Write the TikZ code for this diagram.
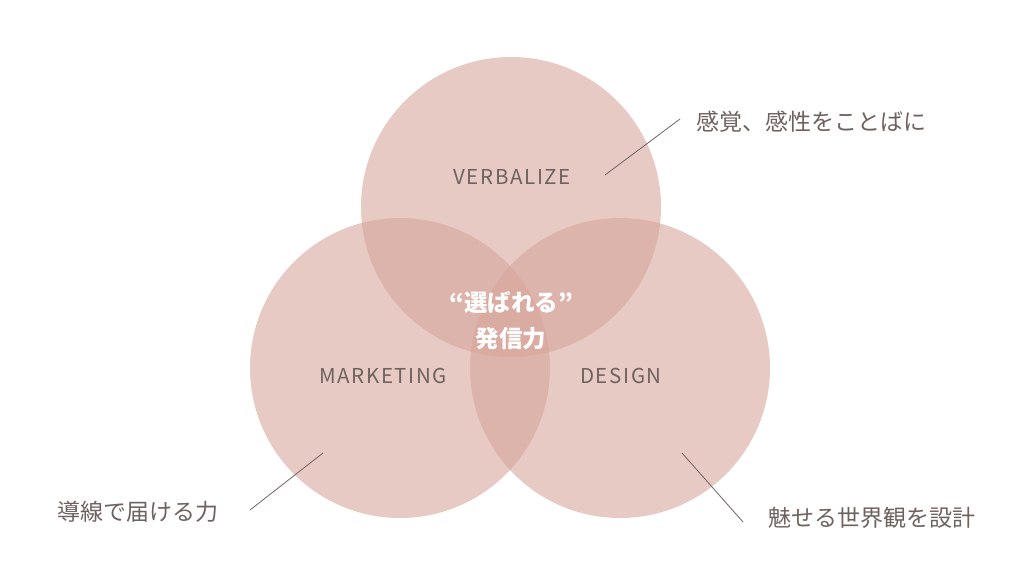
\documentclass[tikz,border=0pt]{standalone}
\usepackage{fontspec}
\setmainfont{Noto Sans CJK JP}
\newfontfamily\jpfont{Noto Sans CJK JP}
\newfontfamily\enfont[LetterSpace=8]{Noto Sans CJK JP}
\definecolor{circfill}{RGB}{214,164,153}
\definecolor{txtgray}{RGB}{110,98,95}
\definecolor{linegray}{RGB}{110,100,98}
\tikzset{
  venn/.style={circle, fill=circfill, fill opacity=0.58, draw=none, minimum size=300pt, inner sep=0pt},
  enlabel/.style={text=txtgray, font=\enfont\fontsize{20.5}{24}\selectfont, inner sep=0pt},
  jplabel/.style={text=txtgray, font=\jpfont\fontsize{23}{27}\selectfont, inner sep=0pt},
  center/.style={text=white, font=\jpfont\bfseries\fontsize{23.5}{28}\selectfont, inner sep=0pt},
  leader/.style={draw=linegray, line width=0.8pt}
}
\begin{document}
\begin{tikzpicture}[x=1pt,y=-1pt]
\useasboundingbox (0,0) rectangle (1024,576);
\node[venn] (top) at (511,207) {};
\node[venn] (left) at (400,368) {};
\node[venn] (right) at (620,368) {};
\node[enlabel] (verb) at (512,177) {VERBALIZE};
\node[enlabel] (mkt) at (383,376) {MARKETING};
\node[enlabel] (des) at (621,376) {DESIGN};
\node[center] (c1) at (511,302) {“選ばれる”};
\node[center] (c2) at (511,339) {発信力};
\coordinate (t1) at (605,175);
\coordinate (t2) at (680,119);
\coordinate (l1) at (250,510);
\coordinate (l2) at (323,453);
\coordinate (r1) at (682,453);
\coordinate (r2) at (743,522);
\draw[leader] (t1) -- (t2);
\draw[leader] (l1) -- (l2);
\draw[leader] (r1) -- (r2);
\node[jplabel, anchor=west] (tl) at (696,122) {感覚、感性をことばに};
\node[jplabel, anchor=east] (ll) at (219,512) {導線で届ける力};
\node[jplabel, anchor=west] (rl) at (768,518) {魅せる世界観を設計};
\end{tikzpicture}
\end{document}
